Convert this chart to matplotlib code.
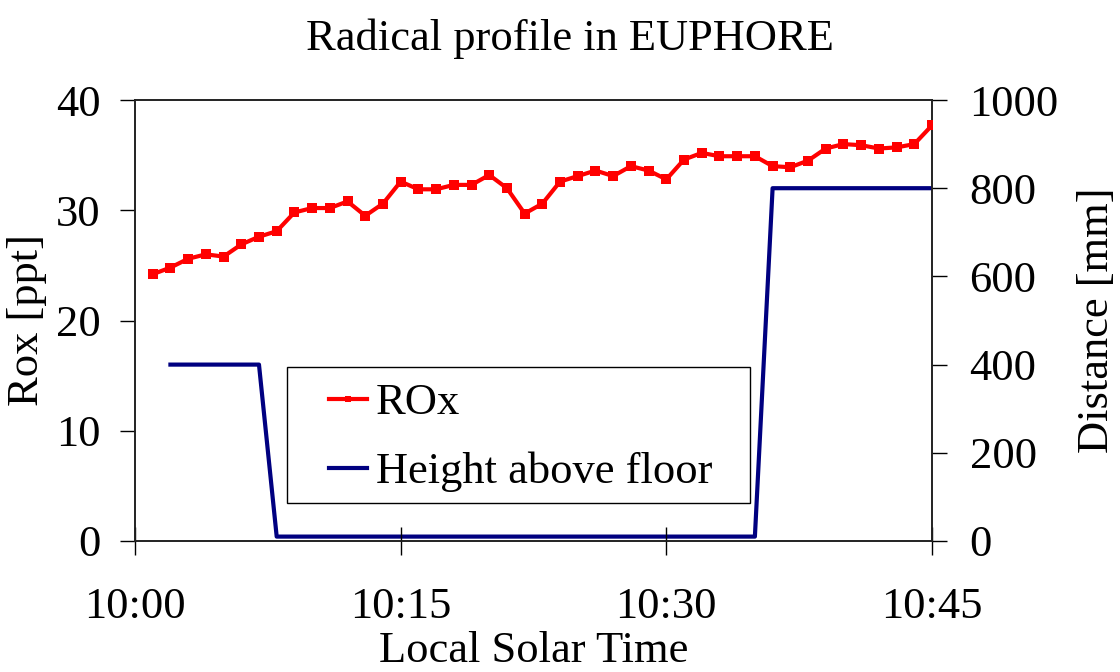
import matplotlib
matplotlib.use("Agg")
import matplotlib.pyplot as plt
from matplotlib.patches import Rectangle

# minutes after 10:00 (local solar time)
rox_minutes = list(range(1, 46))
rox_ppt = [24.2, 24.8, 25.6, 26.0, 25.8, 26.9, 27.6, 28.1, 29.8, 30.2,
           30.2, 30.8, 29.5, 30.6, 32.6, 31.9, 31.9, 32.3, 32.3, 33.2,
           32.0, 29.7, 30.6, 32.6, 33.1, 33.6, 33.1, 34.0, 33.6, 32.8,
           34.6, 35.2, 34.9, 34.9, 34.9, 34.0, 33.9, 34.5, 35.6, 36.0,
           35.9, 35.6, 35.7, 36.0, 37.7]

height_minutes = list(range(2, 46))
height_mm = [400] * 6 + [10] * 28 + [800] * 10

tick_minutes = [0, 15, 30, 45]
tick_labels = ["10:00", "10:15", "10:30", "10:45"]

plt.rcParams["font.family"] = ["Liberation Serif", "DejaVu Serif"]
plt.rcParams["font.size"] = 32

W, H = 1120, 672
fig = plt.figure(figsize=(W / 100, H / 100), dpi=100)
ax = fig.add_axes([135 / W, 1 - 541 / H, (932 - 135) / W, (541 - 100) / H])
ax2 = ax.twinx()

l1, = ax.plot(rox_minutes, rox_ppt, color="#ff0000", lw=3, marker="s",
              markersize=6.5, markeredgewidth=0, label="ROx", zorder=5)
l2, = ax2.plot(height_minutes, height_mm, color="#000080", lw=3,
               label="Height above floor")

ax.set_xlim(0, 45)
ax.set_ylim(0, 40)
ax2.set_ylim(0, 1000)
ax.set_xticks(tick_minutes)
ax.set_xticklabels(tick_labels)
ax.set_yticks([0, 10, 20, 30, 40])
ax2.set_yticks([0, 200, 400, 600, 800, 1000])

for a in (ax, ax2):
    for s in a.spines.values():
        s.set_linewidth(1.2)
        s.set_color("#222222")
ax.tick_params(axis="x", direction="inout", length=20, width=1, pad=23)
ax.tick_params(axis="y", direction="out", length=11, width=1, pad=14)
ax2.tick_params(axis="y", direction="out", length=11, width=1, pad=16)

ax.set_xlabel("Local Solar Time", labelpad=3)
ax.set_ylabel("Rox [ppt]", labelpad=6)
ax2.set_ylabel("Distance [mm]", labelpad=13)
fig.text(570 / W, 1 - 50 / H, "Radical profile in EUPHORE",
         ha="center", va="baseline", fontsize=32)

ax2.set_zorder(ax.get_zorder() - 1)
ax.patch.set_visible(False)

# legend box drawn separately so the inner padding can match the original
box = Rectangle((287 / W, 1 - 503 / H), (750 - 287) / W, (503 - 367) / H,
                transform=fig.transFigure, facecolor="white",
                edgecolor="black", lw=1.0, zorder=9)
ax.add_artist(box)
leg = ax.legend([l1, l2], ["ROx", "Height above floor"], loc="upper left",
                bbox_to_anchor=(329 / W, 1 - 383 / H),
                bbox_transform=fig.transFigure, frameon=False,
                handlelength=0.85, handletextpad=0.2, borderpad=0,
                labelspacing=0.65, borderaxespad=0, markerscale=0.7)
leg.set_zorder(10)

fig.savefig("out.png", dpi=100)
